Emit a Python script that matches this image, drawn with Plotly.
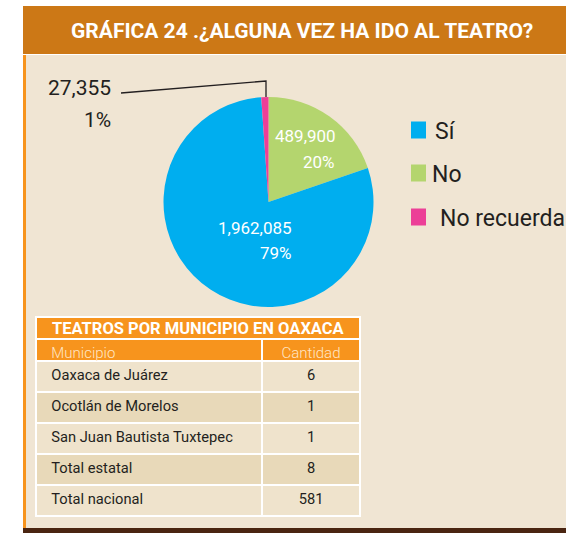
import plotly.graph_objects as go

# ---- data -------------------------------------------------------------
categories = ["Sí", "No", "No recuerda"]
values = [1962085, 489900, 27355]
slice_colors = ["#00AEEF", "#B4D56E", "#EC3F97"]

municipios = ["Oaxaca de Juárez", "Ocotlán de Morelos", "San Juan Bautista Tuxtepec",
              "Total estatal", "Total nacional"]
cantidades = [6, 1, 1, 8, 581]

title_text = "GRÁFICA 24 .¿ALGUNA VEZ HA IDO AL TEATRO?"
table_title = "TEATROS POR MUNICIPIO EN OAXACA"
table_header = ["Municipio", "Cantidad"]

# ---- canvas helpers -----------------------------------------------------
W, H = 566, 533
FONT = "Roboto, Liberation Sans, sans-serif"
INK = "#231F20"
INDENT = "\u00a0\u00a0"  # extra left inset for the first table column


def px(x):
    return x / W


def py(y):
    return 1 - y / H


total = sum(values)
pct = [round(v / total * 100) for v in values]


def fmt(v):
    return f"{v:,}"


fig = go.Figure()

# pie: "No" starts at 12 o'clock, then "Sí", then "No recuerda", clockwise
order = [1, 0, 2]
fig.add_trace(go.Pie(
    labels=[categories[i] for i in order],
    values=[values[i] for i in order],
    marker=dict(colors=[slice_colors[i] for i in order], line=dict(width=0)),
    sort=False,
    direction="clockwise",
    rotation=0,
    textinfo="none",
    hoverinfo="label+value+percent",
    showlegend=False,
    domain=dict(x=[px(163.5), px(373.5)], y=[py(307), py(97)]),
))

# municipal theatre table
light, dark = "#EFE3CC", "#E8D9B9"
row_fill = [light if i % 2 == 0 else dark for i in range(len(municipios))]
fig.add_trace(go.Table(
    domain=dict(x=[px(36), px(360)], y=[py(518), py(339)]),
    columnwidth=[226, 98],
    header=dict(
        values=[INDENT + table_header[0], table_header[1]],
        fill_color="#F7941D",
        line=dict(color="white", width=2),
        align=["left", "center"],
        font=dict(family=FONT, size=15, color="#FFE6C6", weight=300),
        height=22,
    ),
    cells=dict(
        values=[[INDENT + m for m in municipios], [str(c) for c in cantidades]],
        fill_color=[row_fill, row_fill],
        line=dict(color="white", width=2),
        align=["left", "center"],
        font=dict(family=FONT, size=14.7, color=INK),
        height=31,
    ),
))

shapes = [
    # title band
    dict(type="rect", xref="paper", yref="paper", x0=px(23), x1=1, y0=py(54), y1=py(6),
         fillcolor="#CC7816", line=dict(width=0), layer="below"),
    # beige panel
    dict(type="rect", xref="paper", yref="paper", x0=px(23), x1=1, y0=py(528), y1=py(55),
         fillcolor="#F0E5D3", line=dict(width=0), layer="below"),
    # orange left stripe
    dict(type="rect", xref="paper", yref="paper", x0=px(23), x1=px(26), y0=py(528), y1=py(55),
         fillcolor="#F7941D", line=dict(width=0), layer="below"),
    # bottom dark band
    dict(type="rect", xref="paper", yref="paper", x0=px(23), x1=1, y0=0, y1=py(528),
         fillcolor="#4A2511", line=dict(width=0), layer="below"),
    # table title row
    dict(type="rect", xref="paper", yref="paper", x0=px(36), x1=px(360), y0=py(339), y1=py(317),
         fillcolor="#F7941D", line=dict(color="white", width=2), layer="above"),
    # leader line for the small slice
    dict(type="path", xref="paper", yref="paper",
         path=f"M {px(121)} {py(93)} L {px(266)} {py(81)} L {px(266)} {py(97)}",
         line=dict(color=INK, width=1.3)),
]

# legend squares
legend_y = [130, 173, 217]
legend_text_x = [433, 430, 438]
for i, cy in enumerate(legend_y):
    shapes.append(dict(type="rect", xref="paper", yref="paper",
                       x0=px(411), x1=px(426), y0=py(cy + 8.5), y1=py(cy - 8.5),
                       fillcolor=slice_colors[i], line=dict(width=0)))


def label(text, x, y, size, color, anchor="right", bold=False):
    return dict(text=f"<b>{text}</b>" if bold else text, x=px(x), y=py(y),
                xref="paper", yref="paper", showarrow=False,
                xanchor=anchor, yanchor="middle",
                font=dict(family=FONT, size=size, color=color))


annotations = [
    label(title_text, 302, 31, 21, "white", anchor="center", bold=True),
    label(table_title, 50, 328.5, 16.5, "white", anchor="left", bold=True),
    # "No" slice
    label(fmt(values[1]), 338, 136, 17, "white"),
    label(f"{pct[1]}%", 337, 162, 17, "white"),
    # "Sí" slice
    label(fmt(values[0]), 294, 228, 17, "white"),
    label(f"{pct[0]}%", 294, 253, 17, "white"),
    # "No recuerda" slice, called out with the leader line
    label(fmt(values[2]), 113, 88, 21, INK),
    label(f"{pct[2]}%", 113, 120, 21, INK),
]
for i, cy in enumerate(legend_y):
    annotations.append(label(categories[i], legend_text_x[i], cy + 1, 23, INK, anchor="left"))

fig.update_layout(
    width=W, height=H,
    margin=dict(l=0, r=0, t=0, b=0),
    paper_bgcolor="white",
    plot_bgcolor="white",
    shapes=shapes,
    annotations=annotations,
    font=dict(family=FONT),
)

fig.write_html("out.html")
